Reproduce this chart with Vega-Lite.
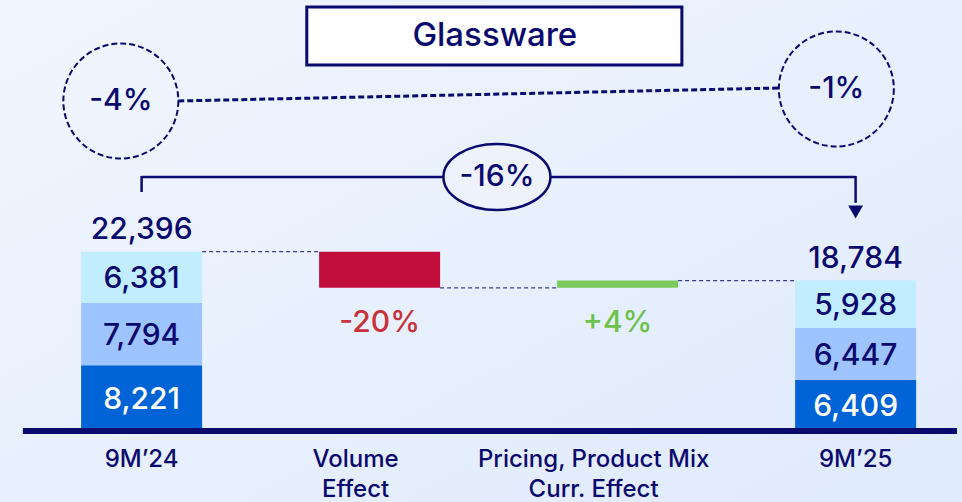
{
  "$schema": "https://vega.github.io/schema/vega-lite/v6.json",
  "width": 962,
  "height": 502,
  "padding": 0,
  "autosize": {"type": "none"},
  "background": "#e9f0fc",
  "data": {"values": [{}]},
  "view": {"stroke": null, "fill": {"gradient": "linear", "x1": 0, "y1": 0, "x2": 1, "y2": 1, "stops": [{"offset": 0, "color": "#f1f6fe"}, {"offset": 1, "color": "#dfeafc"}]}},
  "config": {"font": "Inter", "view": {"stroke": null}},
  "datasets": {
    "segments": [
      {"step": 0, "seg": 1, "value": 8221},
      {"step": 0, "seg": 2, "value": 7794},
      {"step": 0, "seg": 3, "value": 6381},
      {"step": 3, "seg": 1, "value": 6409},
      {"step": 3, "seg": 2, "value": 6447},
      {"step": 3, "seg": 3, "value": 5928}
    ],
    "totals": [
      {"step": 0, "total": 22396, "text": "22,396"},
      {"step": 3, "total": 18784, "text": "18,784"}
    ],
    "deltas": [
      {"step": 1, "start": 22396, "end": 17880, "kind": "neg", "text": "-20%"},
      {"step": 2, "start": 17880, "end": 18784, "kind": "pos", "text": "+4%"}
    ],
    "links": [
      {"from": 0, "to": 1, "level": 22396},
      {"from": 1, "to": 2, "level": 17880},
      {"from": 2, "to": 3, "level": 18784}
    ],
    "cats": [
      {"step": 0, "name": "9M’24", "mid": false},
      {"step": 1, "name": "Volume\nEffect", "mid": true},
      {"step": 2, "name": "Pricing, Product Mix\nCurr. Effect", "mid": true},
      {"step": 3, "name": "9M’25", "mid": false}
    ]
  },
  "layer": [
    {
      "data": {"name": "segments"},
      "mark": {"type": "bar", "width": 121},
      "encoding": {
        "x": {"field": "step", "type": "quantitative", "scale": {"domain": [-0.574, 3.426], "nice": false, "zero": false}, "axis": null},
        "y": {"field": "value", "type": "quantitative", "stack": "zero", "scale": {"domain": [-8868, 53832], "nice": false, "zero": false}, "axis": null},
        "color": {"field": "seg", "type": "nominal", "scale": {"domain": [1, 2, 3], "range": ["#0064d6", "#9ec4ff", "#c2edff"]}, "legend": null},
        "order": {"field": "seg", "type": "quantitative"}
      }
    },
    {
      "data": {"name": "segments"},
      "mark": {"type": "text", "fontSize": 30, "fontWeight": 500, "baseline": "middle", "dy": 2, "letterSpacing": 0.5},
      "encoding": {
        "x": {"field": "step", "type": "quantitative"},
        "y": {"field": "value", "type": "quantitative", "stack": "zero", "bandPosition": 0.5},
        "order": {"field": "seg", "type": "quantitative"},
        "text": {"field": "value", "type": "quantitative", "format": ","},
        "color": {"condition": {"test": "datum.seg == 1", "value": "#ffffff"}, "value": "#0a0a6e"}
      }
    },
    {
      "data": {"name": "totals"},
      "mark": {"type": "text", "fontSize": 30, "fontWeight": 500, "baseline": "alphabetic", "dy": -13, "color": "#0a0a6e", "letterSpacing": 0.5},
      "encoding": {
        "x": {"field": "step", "type": "quantitative"},
        "y": {"field": "total", "type": "quantitative"},
        "text": {"field": "text"}
      }
    },
    {
      "data": {"name": "deltas"},
      "mark": {"type": "bar", "width": 121},
      "encoding": {
        "x": {"field": "step", "type": "quantitative"},
        "y": {"field": "start", "type": "quantitative"},
        "y2": {"field": "end"},
        "color": {"condition": {"test": "datum.kind == 'neg'", "value": "#c00d3b"}, "value": "#7bc95b"}
      }
    },
    {
      "data": {"name": "deltas"},
      "mark": {"type": "text", "fontSize": 30, "fontWeight": 500, "baseline": "alphabetic", "dy": 44, "letterSpacing": 0.5},
      "encoding": {
        "x": {"field": "step", "type": "quantitative"},
        "y": {"datum": 17880, "type": "quantitative"},
        "text": {"field": "text"},
        "color": {"condition": {"test": "datum.kind == 'neg'", "value": "#c8323a"}, "value": "#6cc24a"}
      }
    },
    {
      "data": {"name": "links"},
      "mark": {"type": "rule", "strokeDash": [4, 3], "strokeWidth": 1.2, "color": "#3c3c96", "xOffset": 60.5, "x2Offset": -60.5},
      "encoding": {
        "x": {"field": "from", "type": "quantitative"},
        "x2": {"field": "to"},
        "y": {"field": "level", "type": "quantitative"}
      }
    },
    {
      "mark": {"type": "rule", "strokeWidth": 6, "color": "#0a0a6e"},
      "encoding": {
        "x": {"datum": -0.499, "type": "quantitative"},
        "x2": {"datum": 3.426},
        "y": {"datum": 0, "type": "quantitative"}
      }
    },
    {
      "data": {"name": "cats"},
      "mark": {"type": "text", "fontSize": 24, "fontWeight": 500, "baseline": "alphabetic", "lineBreak": "\n", "lineHeight": 30, "color": "#0a0a6e", "letterSpacing": 0.8},
      "transform": [{"filter": "!datum.mid"}],
      "encoding": {
        "x": {"field": "step", "type": "quantitative"},
        "y": {"datum": -4496, "type": "quantitative"},
        "text": {"field": "name"}
      }
    },
    {
      "data": {"name": "cats"},
      "mark": {"type": "text", "fontSize": 24, "fontWeight": 500, "baseline": "alphabetic", "lineBreak": "\n", "lineHeight": 30, "color": "#0a0a6e", "dx": -24, "letterSpacing": 0.8},
      "transform": [{"filter": "datum.mid"}],
      "encoding": {
        "x": {"field": "step", "type": "quantitative"},
        "y": {"datum": -4496, "type": "quantitative"},
        "text": {"field": "name"}
      }
    },
    {
      "mark": {"type": "rect", "fill": "#ffffff", "stroke": "#0a0a6e", "strokeWidth": 3},
      "encoding": {
        "x": {"datum": 0.694, "type": "quantitative"},
        "x2": {"datum": 2.27},
        "y": {"datum": 52958, "type": "quantitative"},
        "y2": {"datum": 45713}
      }
    },
    {
      "mark": {"type": "text", "text": "Glassware", "fontSize": 33, "fontWeight": 500, "baseline": "middle", "color": "#0a0a6e"},
      "encoding": {
        "x": {"datum": 1.484, "type": "quantitative"},
        "y": {"datum": 49336, "type": "quantitative"}
      }
    },
    {
      "mark": {"type": "rule", "strokeDash": [6, 3], "strokeWidth": 3, "color": "#0a0a6e"},
      "encoding": {
        "x": {"datum": 0.154, "type": "quantitative"},
        "x2": {"datum": 2.678},
        "y": {"datum": 41217, "type": "quantitative"},
        "y2": {"datum": 42841}
      }
    },
    {
      "mark": {"type": "point", "shape": "circle", "size": 13225, "filled": false, "stroke": "#0a0a6e", "strokeWidth": 2, "strokeDash": [6, 3], "opacity": 1},
      "encoding": {
        "x": {"datum": -0.0873, "type": "quantitative"},
        "y": {"datum": 41217, "type": "quantitative"}
      }
    },
    {
      "mark": {"type": "point", "shape": "circle", "size": 13225, "filled": false, "stroke": "#0a0a6e", "strokeWidth": 2, "strokeDash": [6, 3], "opacity": 1},
      "encoding": {
        "x": {"datum": 2.919, "type": "quantitative"},
        "y": {"datum": 42716, "type": "quantitative"}
      }
    },
    {
      "mark": {"type": "text", "text": "-4%", "fontSize": 30, "fontWeight": 500, "baseline": "middle", "color": "#0a0a6e"},
      "encoding": {
        "x": {"datum": -0.0873, "type": "quantitative"},
        "y": {"datum": 41217, "type": "quantitative"}
      }
    },
    {
      "mark": {"type": "text", "text": "-1%", "fontSize": 30, "fontWeight": 500, "baseline": "middle", "color": "#0a0a6e"},
      "encoding": {
        "x": {"datum": 2.919, "type": "quantitative"},
        "y": {"datum": 42716, "type": "quantitative"}
      }
    },
    {
      "mark": {"type": "rule", "strokeWidth": 2.5, "color": "#0a0a6e"},
      "encoding": {
        "x": {"datum": 0, "type": "quantitative"},
        "x2": {"datum": 3},
        "y": {"datum": 31725, "type": "quantitative"}
      }
    },
    {
      "mark": {"type": "rule", "strokeWidth": 2.5, "color": "#0a0a6e"},
      "encoding": {
        "x": {"datum": 0, "type": "quantitative"},
        "y": {"datum": 31850, "type": "quantitative"},
        "y2": {"datum": 29851}
      }
    },
    {
      "mark": {"type": "rule", "strokeWidth": 2.5, "color": "#0a0a6e"},
      "encoding": {
        "x": {"datum": 3, "type": "quantitative"},
        "y": {"datum": 31850, "type": "quantitative"},
        "y2": {"datum": 28500}
      }
    },
    {
      "mark": {"type": "point", "shape": "triangle-down", "size": 220, "filled": true, "color": "#0a0a6e", "opacity": 1},
      "encoding": {
        "x": {"datum": 3, "type": "quantitative"},
        "y": {"datum": 27353, "type": "quantitative"}
      }
    },
    {
      "mark": {"type": "point", "shape": "M-1,0A1,0.617,0,1,0,1,0A1,0.617,0,1,0,-1,0Z", "size": 11449, "filled": true, "fill": "#edf2fd", "stroke": "#0a0a6e", "strokeWidth": 2.5, "opacity": 1, "fillOpacity": 1, "strokeOpacity": 1},
      "encoding": {
        "x": {"datum": 1.493, "type": "quantitative"},
        "y": {"datum": 31725, "type": "quantitative"}
      }
    },
    {
      "mark": {"type": "text", "text": "-16%", "fontSize": 30, "fontWeight": 500, "baseline": "middle", "color": "#0a0a6e"},
      "encoding": {
        "x": {"datum": 1.493, "type": "quantitative"},
        "y": {"datum": 31725, "type": "quantitative"}
      }
    }
  ]
}
